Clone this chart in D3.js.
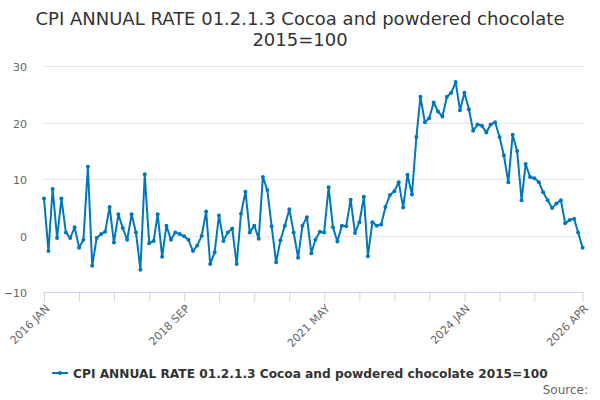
<!DOCTYPE html>
<html>
<head>
<meta charset="utf-8">
<script src="https://cdn.jsdelivr.net/npm/d3@7"></script>
<style>
  html, body { margin: 0; padding: 0; background: #fff; }
  svg { display: block; font-family: "DejaVu Sans", sans-serif; }
</style>
</head>
<body>
<svg id="chart" width="600" height="400"></svg>
<script>
const titleLines = ["CPI ANNUAL RATE 01.2.1.3 Cocoa and powdered chocolate", "2015=100"];
const seriesName = "CPI ANNUAL RATE 01.2.1.3 Cocoa and powdered chocolate 2015=100";
const startYear = 2016, startMonth = 0; // 2016 JAN
const values = [
  6.6, -2.7, 8.3, -0.4, 6.6, 0.6, -0.4, 1.5, -2.1, -0.7, 12.2, -5.3,
  -0.4, 0.3, 0.7, 5.1, -1.2, 3.8, 1.4, -0.7, 3.8, 0.6, -6.0, 10.9,
  -1.3, -0.9, 3.8, -3.7, 1.8, -0.7, 0.6, 0.3, -0.1, -0.7, -2.7, -1.7,
  0.0, 4.3, -5.0, -2.9, 3.6, -0.9, 0.6, 1.3, -5.0, 3.9, 7.8, 0.6,
  1.8, -0.5, 10.4, 8.1, 1.7, -4.7, -0.8, 1.8, 4.7, 0.6, -3.9, 1.8,
  3.3, -3.1, -0.7, 0.7, 0.6, 8.6, 1.5, -1.0, 1.8, 1.7, 6.4, 0.5,
  2.4, 6.9, -3.6, 2.4, 1.8, 2.0, 5.1, 7.2, 7.9, 9.5, 5.0, 10.8,
  7.3, 17.5, 24.6, 20.1, 20.8, 23.6, 22.0, 21.1, 24.6, 25.3, 27.2, 22.2,
  25.3, 22.4, 18.6, 19.7, 19.5, 18.3, 19.7, 20.1, 17.5, 14.2, 9.5, 17.9,
  15.0, 6.3, 12.7, 10.4, 10.2, 9.5, 7.7, 6.3, 4.9, 5.7, 6.3, 2.2,
  2.8, 3.0, 0.6, -2.1
];
const yTicks = [-10, 0, 10, 20, 30];
const xTickMonths = [0, 8, 16, 24, 32, 40, 48, 56, 64, 72, 80, 88, 96, 104, 112, 123];
const xLabelMonths = [0, 32, 64, 96, 123];
const monthNames = ["JAN","FEB","MAR","APR","MAY","JUN","JUL","AUG","SEP","OCT","NOV","DEC"];

const dates = values.map((v, i) => new Date(startYear, startMonth + i, 1));
const data = values.map((v, i) => ({ date: dates[i], value: v }));

const svg = d3.select("#chart");
const color = "#0077bb";

const x = d3.scaleTime()
  .domain([dates[0], dates[dates.length - 1]])
  .range([44, 582.6]);
const y = d3.scaleLinear().domain([-10, 30]).range([292.3, 66.3]);

// Title
const title = svg.append("text")
  .attr("x", 300).attr("text-anchor", "middle")
  .attr("fill", "#333333").style("font-size", "18px");
titleLines.forEach((t, i) => {
  title.append("tspan").attr("x", 300).attr("y", 25 + i * 20.5).text(t);
});

// Grid lines
svg.append("g").selectAll("line").data(yTicks.filter(d => d !== -10)).join("line")
  .attr("x1", 43).attr("x2", 583)
  .attr("y1", d => Math.round(y(d)) + 0.5).attr("y2", d => Math.round(y(d)) + 0.5)
  .attr("stroke", "#e6e6e6").attr("stroke-width", 1);

// Y axis labels
const yAxis = d3.axisLeft(y).tickValues(yTicks).tickSize(0).tickPadding(0);
const gy = svg.append("g").attr("transform", "translate(27,0)").call(yAxis);
gy.select(".domain").remove();
gy.selectAll("text").attr("fill", "#666666").style("font-size", "11px")
  .style("font-family", "DejaVu Sans, sans-serif").attr("dy", "0.42em");

// X axis
const xAxis = d3.axisBottom(x)
  .tickValues(xTickMonths.map(i => dates[i]))
  .tickSize(9).tickSizeOuter(0)
  .tickFormat((d, i) => {
    const idx = xTickMonths[i];
    return xLabelMonths.includes(idx) ? d.getFullYear() + " " + monthNames[d.getMonth()] : "";
  });
const gx = svg.append("g").attr("transform", "translate(0,292.5)").call(xAxis);
gx.select(".domain").attr("stroke", "#ccd6eb").attr("d", "M43,0H583");
gx.selectAll(".tick line").attr("stroke", "#ccd6eb");
gx.selectAll("text")
  .attr("fill", "#666666").style("font-size", "11px")
  .style("font-family", "DejaVu Sans, sans-serif")
  .attr("text-anchor", "end")
  .attr("transform", "translate(3,14) rotate(-45)")
  .attr("y", 0).attr("dy", "0.35em");

// Line
const line = d3.line().x(d => x(d.date)).y(d => y(d.value));
svg.append("path").datum(data)
  .attr("fill", "none").attr("stroke", color)
  .attr("stroke-width", 2).attr("stroke-linejoin", "round").attr("d", line);

svg.append("g").selectAll("circle").data(data).join("circle")
  .attr("cx", d => x(d.date)).attr("cy", d => y(d.value))
  .attr("r", 2).attr("fill", color);

// Legend
const lg = svg.append("g").attr("transform", "translate(0,373)");
lg.append("line").attr("x1", 52).attr("x2", 68).attr("y1", 0).attr("y2", 0)
  .attr("stroke", color).attr("stroke-width", 2);
lg.append("circle").attr("cx", 60).attr("cy", 0).attr("r", 2).attr("fill", color);
lg.append("text").attr("x", 73).attr("y", 4.5)
  .attr("fill", "#333333").style("font-size", "12.2px").style("font-weight", "bold")
  .text(seriesName);

// Source
svg.append("text").attr("x", 588).attr("y", 394).attr("text-anchor", "end")
  .attr("fill", "#666666").style("font-size", "12px").text("Source:");
</script>
</body>
</html>
